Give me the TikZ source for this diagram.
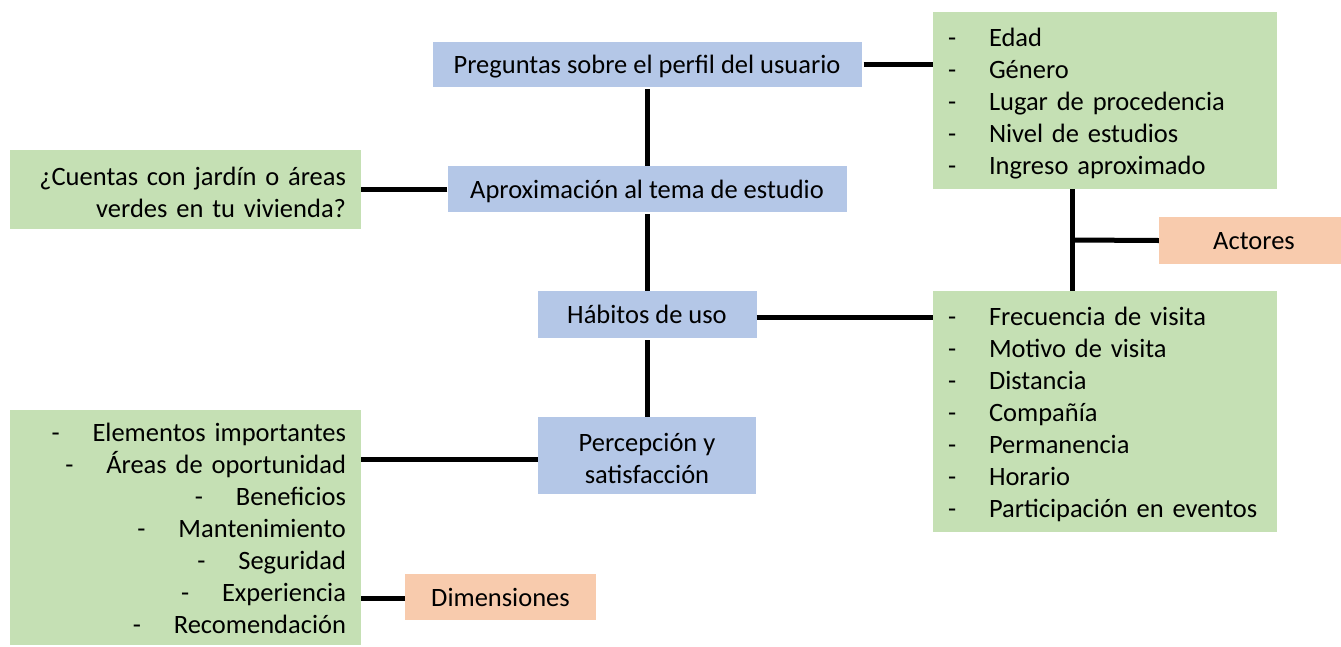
\documentclass[tikz,border=0pt]{standalone}
\usepackage{fontspec}
\setmainfont{Carlito}
\definecolor{bluef}{HTML}{B4C7E7}
\definecolor{greenf}{HTML}{C5E0B4}
\definecolor{orangef}{HTML}{F8CBAD}
\newcommand{\dashitem}[1]{\makebox[41pt][l]{-}#1}
\begin{document}
\begin{tikzpicture}[x=1pt,y=-1pt,
  box/.style={rectangle, inner sep=0pt, font=\fontsize{26.5}{32}\selectfont},
  oneline/.style={text height=23pt, text depth=5pt},
  txt/.style={inner sep=0pt, font=\fontsize{26.5}{32}\selectfont},
  bluebox/.style={box, fill=bluef},
  greenbox/.style={box, fill=greenf},
  orangebox/.style={box, fill=orangef},
  conn/.style={line width=5pt, black}]
\useasboundingbox (0,0) rectangle (1341,646);
\node[bluebox, oneline, minimum width=429pt, minimum height=45pt] (perfil) at (647,64.5) {Preguntas sobre el perfil del usuario};
\node[bluebox, oneline, minimum width=399pt, minimum height=46pt] (aprox) at (647,189) {Aproximación al tema de estudio};
\node[bluebox, oneline, minimum width=219pt, minimum height=47pt] (habitos) at (647,314.5) {Hábitos de uso};
\node[bluebox, minimum width=218pt, minimum height=77pt] (percep) at (647,455.5) {};
\node[txt, align=center] (perceptxt) at ([yshift=-3pt]percep.center) {Percepción y\\satisfacción};
\node[greenbox, minimum width=351pt, minimum height=79pt] (jardin) at (185.5,189.5) {};
\node[txt, text width=321pt, align=right] (jardintxt) at ([yshift=-3pt]jardin.center) {¿Cuentas con jardín o áreas\\verdes en tu vivienda?};
\node[greenbox, minimum width=344pt, minimum height=177pt] (actlist) at (1105,100.5) {};
\node[txt, text width=314pt, align=left] (actlisttxt) at ([yshift=-3pt]actlist.center) {\dashitem{Edad}\\\dashitem{Género}\\\dashitem{Lugar de procedencia}\\\dashitem{Nivel de estudios}\\\dashitem{Ingreso aproximado}};
\node[orangebox, oneline, minimum width=190pt, minimum height=47pt] (actores) at (1254,240.5) {Actores};
\node[greenbox, minimum width=344pt, minimum height=241pt] (habitlist) at (1105,411.5) {};
\node[txt, text width=314pt, align=left] (habitlisttxt) at ([yshift=-3pt]habitlist.center) {\dashitem{Frecuencia de visita}\\\dashitem{Motivo de visita}\\\dashitem{Distancia}\\\dashitem{Compañía}\\\dashitem{Permanencia}\\\dashitem{Horario}\\\dashitem{Participación en eventos}};
\node[greenbox, minimum width=351pt, minimum height=235pt] (dimlist) at (185.5,527.5) {};
\node[txt, text width=321pt, align=right] (dimlisttxt) at ([yshift=-1pt]dimlist.center) {\dashitem{Elementos importantes}\\\dashitem{Áreas de oportunidad}\\\dashitem{Beneficios}\\\dashitem{Mantenimiento}\\\dashitem{Seguridad}\\\dashitem{Experiencia}\\\dashitem{Recomendación}};
\node[orangebox, oneline, minimum width=191pt, minimum height=46pt] (dimens) at (500.5,597) {Dimensiones};
\coordinate (j) at (1072,240);
\draw[conn] ([yshift=-2pt]perfil.south) -- (aprox.north);
\draw[conn] ([yshift=-2pt]aprox.south) -- (habitos.north);
\draw[conn] ([yshift=-2pt]habitos.south) -- (percep.north);
\draw[conn] ([xshift=2pt]perfil.east) -- (perfil.east -| actlist.west);
\draw[conn] (aprox.west) -- (aprox.west -| jardin.east);
\draw[conn] ([yshift=-2.5pt]habitos.east) -- ([yshift=-2.5pt]habitos.east -| habitlist.west);
\draw[conn] (j |- actlist.south) -- (j |- habitlist.north);
\draw[conn] (j) -- (actores.west);
\draw[conn] ([yshift=-3.5pt]percep.west) -- ([yshift=-3.5pt]percep.west -| dimlist.east);
\draw[conn] ([yshift=-1pt]dimens.west) -- ([yshift=-1pt]dimens.west -| dimlist.east);
\end{tikzpicture}
\end{document}
